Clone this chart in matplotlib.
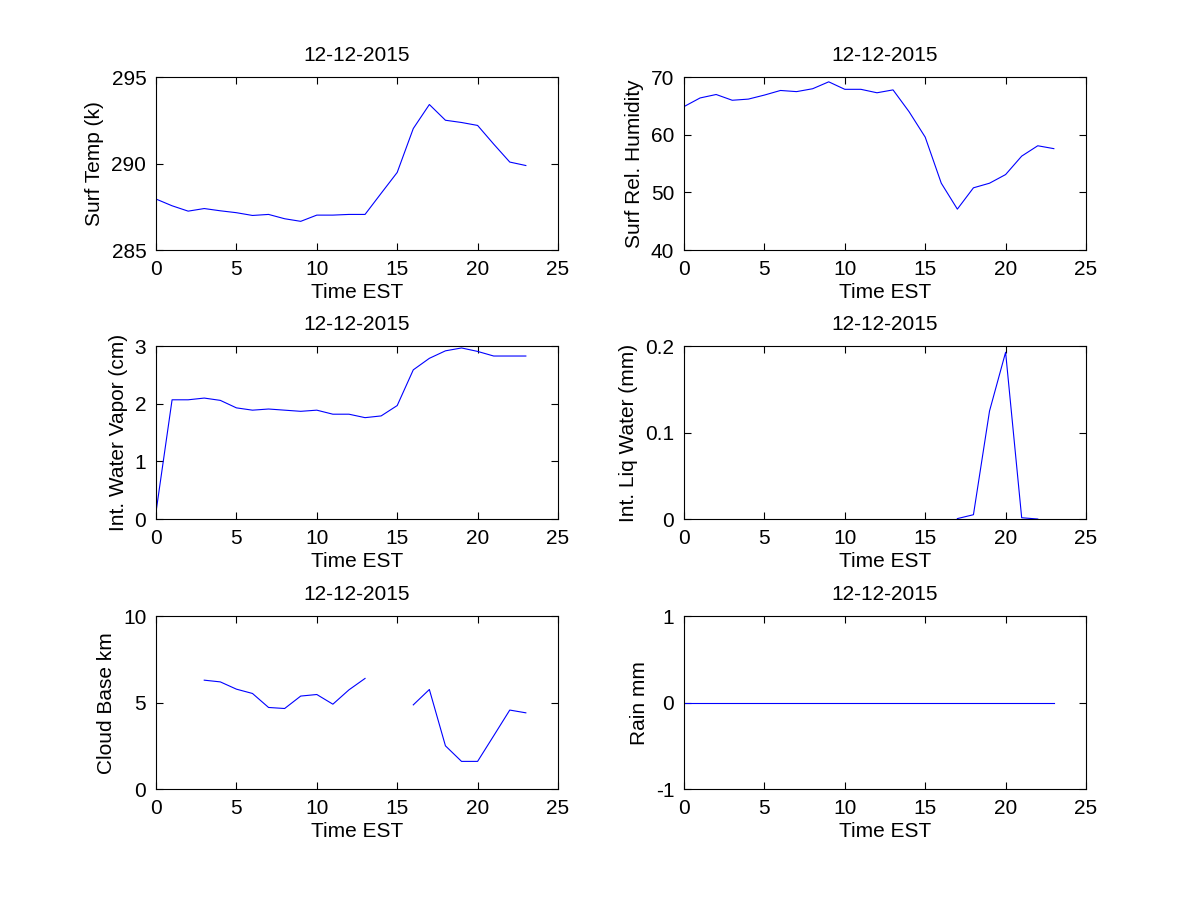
import numpy as np
import matplotlib
matplotlib.use("Agg")
import matplotlib.pyplot as plt

plt.rcParams['font.family'] = ['Liberation Sans', 'DejaVu Sans']
plt.rcParams['font.size'] = 15
plt.rcParams['axes.unicode_minus'] = False

nan = np.nan
hours = list(range(24))
date_title = "12-12-2015"

surf_temp = [287.95, 287.56, 287.25, 287.40, 287.27, 287.16, 287.00, 287.06,
             286.81, 286.66, 287.02, 287.02, 287.06, 287.06, 288.28, 289.49,
             292.03, 293.42, 292.51, 292.38, 292.21, 291.13, 290.09, 289.89]
surf_rh = [64.9, 66.4, 67.0, 66.0, 66.2, 66.9, 67.7, 67.5, 68.0, 69.2, 67.9, 67.9,
           67.3, 67.8, 64.0, 59.6, 51.6, 47.1, 50.8, 51.6, 53.1, 56.3, 58.1, 57.6]
water_vapor = [0.12, 2.07, 2.07, 2.10, 2.06, 1.93, 1.89, 1.91, 1.89, 1.87, 1.89, 1.82,
               1.82, 1.76, 1.79, 1.97, 2.59, 2.79, 2.92, 2.97, 2.91, 2.83, 2.83, 2.83]
liq_water = [nan] * 17 + [0.0005, 0.005, 0.125, 0.193, 0.0015, 0.0, nan]
cloud_base = [nan, nan, nan, 6.30, 6.20, 5.78, 5.53, 4.72, 4.66, 5.38, 5.47, 4.91,
              5.74, 6.40, nan, nan, 4.87, 5.76, 2.50, 1.60, 1.60, 3.08, 4.57, 4.41]
rain = [0.0] * 24

panels = [
    (surf_temp, "Surf Temp (k)", (285, 295), [285, 290, 295], None),
    (surf_rh, "Surf Rel. Humidity", (40, 70), [40, 50, 60, 70], None),
    (water_vapor, "Int. Water Vapor (cm)", (0, 3), [0, 1, 2, 3], None),
    (liq_water, "Int. Liq Water (mm)", (0, 0.2), [0, 0.1, 0.2], ["0", "0.1", "0.2"]),
    (cloud_base, "Cloud Base km", (0, 10), [0, 5, 10], None),
    (rain, "Rain mm", (-1, 1), [-1, 0, 1], None),
]

fig = plt.figure(figsize=(12, 9), dpi=100)
lefts = [0.13, 0.57]
bottoms = [0.7222, 0.4233, 0.1233]
w, h = 0.335, 0.192

for i, (vals, ylab, ylim, yt, ytl) in enumerate(panels):
    ax = fig.add_axes([lefts[i % 2], bottoms[i // 2], w, h])
    ax.plot(hours, vals, color='blue', lw=0.8)
    ax.set_xlim(0, 25)
    ax.set_ylim(*ylim)
    ax.set_xticks([0, 5, 10, 15, 20, 25])
    ax.set_yticks(yt)
    if ytl:
        ax.set_yticklabels(ytl)
    ax.tick_params(direction='in', top=True, right=True, length=5, width=0.8, pad=7)
    for s in ax.spines.values():
        s.set_linewidth(0.8)
    ax.set_title(date_title, fontsize=15, pad=12)
    ax.set_xlabel("Time EST", labelpad=3)
    ax.set_ylabel(ylab, labelpad=5)

fig.savefig("out.png", dpi=100)
